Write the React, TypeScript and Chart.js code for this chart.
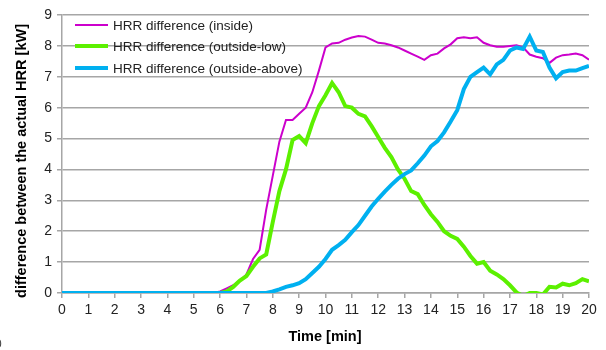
import React, { useEffect, useRef } from "react";
import { Chart, registerables } from "chart.js";

Chart.register(...registerables);

// Time axis (minutes), sampled every quarter minute
const times = [
  0, 0.25, 0.5, 0.75, 1, 1.25, 1.5, 1.75, 2, 2.25, 2.5, 2.75, 3, 3.25, 3.5, 3.75,
  4, 4.25, 4.5, 4.75, 5, 5.25, 5.5, 5.75, 6, 6.25, 6.5, 6.75, 7, 7.25, 7.5, 7.75,
  8, 8.25, 8.5, 8.75, 9, 9.25, 9.5, 9.75, 10, 10.25, 10.5, 10.75, 11, 11.25, 11.5, 11.75,
  12, 12.25, 12.5, 12.75, 13, 13.25, 13.5, 13.75, 14, 14.25, 14.5, 14.75, 15, 15.25, 15.5, 15.75,
  16, 16.25, 16.5, 16.75, 17, 17.25, 17.5, 17.75, 18, 18.25, 18.5, 18.75, 19, 19.25, 19.5, 19.75, 20,
];

// HRR difference, inside [kW]
const inside = [
  0, 0, 0, 0, 0, 0, 0, 0, 0, 0, 0, 0, 0, 0, 0, 0,
  0, 0, 0, 0, 0, 0, 0, 0, 0.05, 0.15, 0.25, 0.4, 0.6, 1.1, 1.4, 2.7,
  3.8, 4.9, 5.6, 5.6, 5.8, 6.0, 6.5, 7.2, 7.95, 8.08, 8.1, 8.2, 8.27, 8.32, 8.3, 8.2,
  8.1, 8.08, 8.02, 7.95, 7.85, 7.75, 7.65, 7.55, 7.7, 7.75, 7.92, 8.05, 8.25, 8.28, 8.25, 8.28,
  8.1, 8.02, 7.97, 7.97, 8.0, 8.02, 7.95, 7.72, 7.65, 7.6, 7.45, 7.62, 7.7, 7.72, 7.75, 7.7, 7.55,
];

// HRR difference, outside-low [kW]
const outsideLow = [
  0, 0, 0, 0, 0, 0, 0, 0, 0, 0, 0, 0, 0, 0, 0, 0,
  0, 0, 0, 0, 0, 0, 0, 0, 0, 0.05, 0.2, 0.4, 0.55, 0.85, 1.12, 1.25,
  2.3, 3.3, 4.0, 4.95, 5.08, 4.85, 5.5, 6.05, 6.4, 6.8, 6.5, 6.05, 6.0, 5.8, 5.72, 5.4,
  5.05, 4.7, 4.4, 4.0, 3.7, 3.3, 3.2, 2.85, 2.55, 2.3, 2.0, 1.85, 1.75, 1.5, 1.2, 0.95,
  1.0, 0.72, 0.6, 0.45, 0.25, 0.02, -0.1, 0.0, 0.0, -0.05, 0.2, 0.18, 0.3, 0.25, 0.32, 0.45, 0.38,
];

// HRR difference, outside-above [kW]
const outsideAbove = [
  0, 0, 0, 0, 0, 0, 0, 0, 0, 0, 0, 0, 0, 0, 0, 0,
  0, 0, 0, 0, 0, 0, 0, 0, 0, 0, 0, 0, 0, 0, 0, 0,
  0.05, 0.12, 0.2, 0.25, 0.32, 0.45, 0.65, 0.85, 1.1, 1.4, 1.55, 1.72, 1.97, 2.2, 2.5, 2.8,
  3.05, 3.28, 3.5, 3.7, 3.85, 3.97, 4.2, 4.45, 4.75, 4.92, 5.2, 5.55, 5.92, 6.6, 7.0, 7.15,
  7.3, 7.08, 7.4, 7.55, 7.85, 7.95, 7.9, 8.3, 7.85, 7.8, 7.3, 6.95, 7.15, 7.2, 7.2, 7.28, 7.35,
];

const seriesLabels = [
  "HRR difference (inside)",
  "HRR difference (outside-low)",
  "HRR difference (outside-above)",
];
const seriesColors = ["#CC00CC", "#5CF000", "#00B0F0"];
const seriesWidths = [2, 4, 4];

const yTitle = "difference between the actual HRR [kW]";
const xTitle = "Time [min]";

const FONT = "'Liberation Sans', Arial, sans-serif";
const GRID = "#A6A6A6";

export default function App() {
  const canvasRef = useRef<HTMLCanvasElement | null>(null);

  useEffect(() => {
    document.body.style.margin = "0";
    const canvas = canvasRef.current;
    if (!canvas) return;

    const toPoints = (vals: number[]) => vals.map((v, i) => ({ x: times[i], y: v }));
    const series = [inside, outsideLow, outsideAbove];

    // Legend and axis titles drawn straight on the canvas
    const overlay = {
      id: "overlay",
      afterDraw(chart: any) {
        const ctx = chart.ctx;
        const area = chart.chartArea;
        ctx.save();
        // legend, inside the plot at the top left
        const rows = [25, 46, 68];
        chart.data.datasets.forEach((ds: any, i: number) => {
          ctx.strokeStyle = ds.borderColor;
          ctx.lineWidth = ds.borderWidth;
          ctx.beginPath();
          ctx.moveTo(area.left + 13, rows[i]);
          ctx.lineTo(area.left + 46, rows[i]);
          ctx.stroke();
          ctx.fillStyle = "#222";
          ctx.font = `13.5px ${FONT}`;
          ctx.textBaseline = "middle";
          ctx.textAlign = "left";
          ctx.fillText(ds.label, area.left + 51, rows[i] + 1);
        });
        // y axis title
        ctx.font = `bold 14.5px ${FONT}`;
        ctx.fillStyle = "#000";
        ctx.translate(22, 161);
        ctx.rotate(-Math.PI / 2);
        ctx.textAlign = "center";
        ctx.textBaseline = "middle";
        ctx.fillText(yTitle, 0, 0);
        ctx.restore();
        // x axis title
        ctx.save();
        ctx.font = `bold 14.5px ${FONT}`;
        ctx.fillStyle = "#000";
        ctx.textAlign = "center";
        ctx.textBaseline = "middle";
        ctx.fillText(xTitle, 325, 337);
        ctx.fillStyle = "#444";
        ctx.textAlign = "left";
        ctx.font = `12px ${FONT}`;
        ctx.fillText("0", -5, 345);
        ctx.restore();
      },
    };

    const chart = new Chart(canvas, {
      type: "line",
      data: {
        datasets: series.map((vals, i) => ({
          label: seriesLabels[i],
          data: toPoints(vals),
          borderColor: seriesColors[i],
          backgroundColor: seriesColors[i],
          borderWidth: seriesWidths[i],
          pointRadius: 0,
          tension: 0,
          fill: false,
          order: 3 - i,
        })),
      },
      options: {
        animation: false,
        responsive: false,
        devicePixelRatio: 1,
        layout: { padding: { top: 15, right: 17, left: 0, bottom: 0 } },
        plugins: { legend: { display: false }, tooltip: { enabled: false } },
        scales: {
          x: {
            type: "linear",
            min: 0,
            max: 20,
            ticks: {
              stepSize: 1,
              color: "#222",
              font: { family: FONT, size: 14 },
              padding: 4,
            },
            grid: {
              display: true,
              drawOnChartArea: false,
              drawTicks: true,
              tickLength: 5,
              color: GRID,
              lineWidth: 1.5,
            },
            border: { color: GRID, width: 1.5 },
            afterFit(scale: any) {
              scale.height = 57;
            },
          },
          y: {
            min: 0,
            max: 9,
            ticks: {
              stepSize: 1,
              color: "#222",
              font: { family: FONT, size: 14 },
              padding: 5,
            },
            grid: {
              color: GRID,
              lineWidth: 1.5,
              tickLength: 5,
            },
            border: { color: GRID, width: 1.5 },
            afterFit(scale: any) {
              scale.width = 62;
            },
          },
        },
      },
      plugins: [overlay],
    });

    return () => chart.destroy();
  }, []);

  return (
    <div style={{ width: 606, height: 350, background: "#fff" }}>
      <canvas ref={canvasRef} width={606} height={350} style={{ display: "block" }} />
    </div>
  );
}
